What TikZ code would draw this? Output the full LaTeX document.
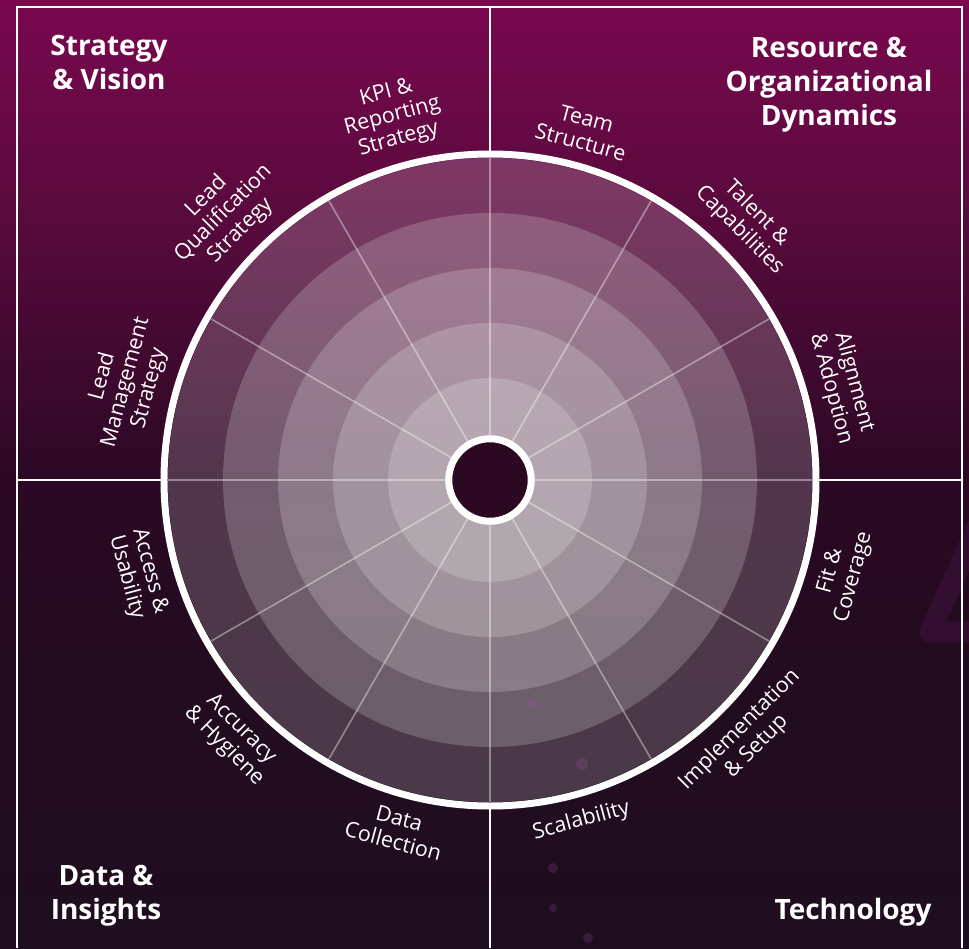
\documentclass[tikz,border=0pt]{standalone}
\usepackage{fontspec}
\setmainfont{Open Sans}

\definecolor{bgtop}{RGB}{122,8,79}
\definecolor{bgupper}{RGB}{84,10,58}
\definecolor{bgmid}{RGB}{44,8,36}
\definecolor{bglow}{RGB}{36,11,32}
\definecolor{bgbot}{RGB}{30,14,31}
\definecolor{hole}{RGB}{44,9,34}
\definecolor{decor}{RGB}{50,14,48}
\definecolor{glow}{RGB}{160,90,170}

\pgfdeclareverticalshading{backdrop}{100bp}{color(0bp)=(bgbot); color(25bp)=(bgbot); color(42bp)=(bglow); color(50bp)=(bgmid); color(62bp)=(bgupper); color(75bp)=(bgtop); color(100bp)=(bgtop)}

\tikzset{
	quadline/.style = {white, line width=1.5pt},
	band/.style = {white, opacity=0.19},
	spoke/.style = {white, opacity=0.4, line width=1.6pt},
	ring/.style = {white, line width=7pt},
	area/.style = {text=white, font=\bfseries\fontsize{28}{34}\selectfont, align=center, inner sep=0pt},
	facet/.style = {text=white, font=\fontsize{21.5}{24}\selectfont, align=center, inner sep=0pt},
}

\begin{document}
\begin{tikzpicture}[x=1pt, y=1pt]
	\coordinate (O) at (0,0);
	\pgfmathsetmacro{\R}{322}
	\pgfmathsetmacro{\lab}{342}
	% ====== Backdrop ========
	\useasboundingbox (-490,-468) rectangle (479,480);
	\shade[shading=backdrop] (-490,-468) rectangle (479,480);
	\begin{scope}
		\clip (-490,-468) rectangle (479,480);
		\draw[decor, line width=21pt, line join=round] (495,-30) -- (440,-152) -- (500,-152);
	\end{scope}

	% ====== Quadrants ========
	\draw[quadline] (-473,-468) -- (-473,473) -- (472,473) -- (472,-468);
	\draw[quadline] (-473,0) -- (-326,0);
	\draw[quadline] (326,0) -- (472,0);
	\draw[quadline] (0,473) -- (0,326);
	\draw[quadline] (0,-326) -- (0,-468);

	\node[area, anchor=north] (strategy) at (-381,445) {Strategy\\\& Vision};
	\node[area, anchor=north] (resource) at (339,443) {Resource \&\\Organizational\\Dynamics};
	\node[area, anchor=north] (data) at (-384,-385) {Data \&\\Insights};
	\node[area, anchor=north] (technology) at (363,-418) {Technology};

	% ====== Wheel ========
	\foreach \r in {322,267,212,157,102} {\fill[band] (O) circle (\r);}
	\foreach \a in {0,30,...,330} {\draw[spoke] (O) -- (\a:\R);}
	\draw[ring] (O) circle (326);
	\fill[hole] (O) circle (41);
	\draw[ring] (O) circle (41.25);

	\foreach \p/\s in {{(43,-223)}/5, {(92,-284)}/6, {(92,-195)}/2, {(63,-388)}/5, {(63,-428)}/4, {(98,-458)}/5}
		{\fill[glow, opacity=0.2] \p circle (\s);}

	% ====== Labels ========
	\foreach \a/\txt [count=\i] in {105/{KPI \&\\Reporting\\Strategy}, 75/{Team\\Structure}, 45/{Talent \&\\Capabilities}, 15/{Alignment\\\& Adoption}, 165/{Lead\\Management\\Strategy}, 135/{Lead\\Qualification\\Strategy}}
		{\node[facet, anchor=south, rotate=\a-90] (up\i) at (\a:\lab) {\txt};}
	\foreach \a/\txt [count=\i] in {-15/{Fit \&\\Coverage}, -45/{Implementation\\\& Setup}, -75/{Scalability}, -105/{Data\\Collection}, -135/{Accuracy\\\& Hygiene}, -165/{Access \&\\Usability}}
		{\node[facet, anchor=north, rotate=\a+90] (lo\i) at (\a:\lab) {\txt};}
\end{tikzpicture}
\end{document}
